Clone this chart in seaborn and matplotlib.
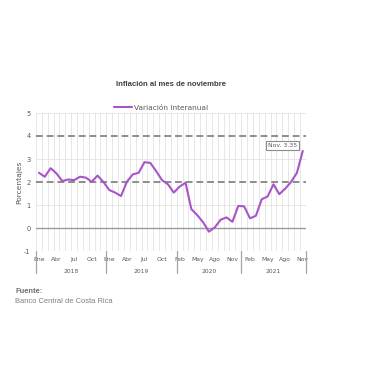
import numpy as np
import pandas as pd
import seaborn as sns
import matplotlib.pyplot as plt
import matplotlib.transforms as mtransforms

# datos: variación interanual del IPC (%), ene-2018 a nov-2021 (sin ene-2020)
years = ["2018", "2019", "2020", "2021"]
months_2018 = ["Ene", "Feb", "Mar", "Abr", "May", "Jun", "Jul", "Ago", "Sep", "Oct", "Nov", "Dic"]
months_2019 = ["Ene", "Feb", "Mar", "Abr", "May", "Jun", "Jul", "Ago", "Sep", "Oct", "Nov", "Dic"]
months_2020 = ["Feb", "Mar", "Abr", "May", "Jun", "Jul", "Ago", "Sep", "Oct", "Nov", "Dic"]
months_2021 = ["Ene", "Feb", "Mar", "Abr", "May", "Jun", "Jul", "Ago", "Sep", "Oct", "Nov"]
infl_2018 = [2.40, 2.23, 2.60, 2.37, 2.04, 2.11, 2.08, 2.23, 2.19, 2.01, 2.28, 2.00]
infl_2019 = [1.65, 1.54, 1.39, 2.01, 2.33, 2.40, 2.86, 2.83, 2.47, 2.08, 1.90, 1.54]
infl_2020 = [1.80, 1.97, 0.82, 0.56, 0.25, -0.16, 0.03, 0.36, 0.46, 0.27, 0.96]
infl_2021 = [0.94, 0.42, 0.53, 1.25, 1.37, 1.90, 1.47, 1.71, 2.00, 2.40, 3.35]
ref_lines = [2, 4]

sns.set_style("white")
plt.rcParams['font.family'] = ['DejaVu Sans']

month_groups = [months_2018, months_2019, months_2020, months_2021]
value_groups = [infl_2018, infl_2019, infl_2020, infl_2021]
rows = []
for y, ms, vs in zip(years, month_groups, value_groups):
    for m, v in zip(ms, vs):
        rows.append((y, m, v))
df = pd.DataFrame(rows, columns=["anio", "mes", "valor"])
df["pos"] = np.arange(len(df))
n = len(df)

fig = plt.figure(figsize=(3.8, 3.8), dpi=100)
ax = fig.add_axes([36 / 380, 1 - 251 / 380, 269.7 / 380, 138 / 380])

purple = "#A855C8"
grid_c = "#E3E3E3"
text_c = "#595959"

# rejilla
for k in np.arange(-0.5, n, 1.0):
    ax.axvline(k, color=grid_c, lw=0.6, zorder=0)
for yv in [-1, 1, 3, 5]:
    ax.axhline(yv, color=grid_c, lw=0.6, zorder=0)
ax.axhline(0, color="#9A9A9A", lw=1.0, zorder=1)
for r in ref_lines:
    ax.axhline(r, color="#8C8C8C", lw=1.4, ls=(0, (3.5, 2)), zorder=1)

sns.lineplot(data=df, x="pos", y="valor", ax=ax, color=purple, lw=1.5,
             label="Variación interanual", zorder=3)
ax.lines[-1].set_solid_joinstyle("round")

ax.set_xlim(-0.5, n - 0.5)
ax.set_ylim(-1, 5)
ax.set_yticks(range(-1, 6))
ax.set_yticklabels([str(t) for t in range(-1, 6)])
ticks = list(range(0, n, 3))
ax.set_xticks(ticks)
ax.set_xticklabels([df["mes"][i] for i in ticks])
ax.tick_params(axis="x", length=0, pad=4, labelsize=4.4, colors=text_c)
ax.tick_params(axis="y", length=0, pad=4, labelsize=4.8, colors=text_c)
ax.set_xlabel("")
ax.set_ylabel("Porcentajes", fontsize=5.4, color=text_c, labelpad=1)
for s in ax.spines.values():
    s.set_visible(False)

# etiquetas de año y separadores
trans = mtransforms.blended_transform_factory(ax.transData, ax.transAxes)
start = 0
bounds = [-0.5]
for y, ms in zip(years, month_groups):
    end = start + len(ms)
    ax.text((start + end - 1) / 2, -0.145, y, transform=trans, ha="center", va="center",
            fontsize=4.3, color=text_c)
    bounds.append(end - 0.5)
    start = end
for b in bounds:
    ax.plot([b, b], [0, -0.16], transform=trans, color="#A6A6A6", lw=0.9, clip_on=False)

# etiqueta del último dato
last = df.iloc[-1]
ax.annotate(f"{last['mes']}. {last['valor']:.2f}",
            xy=(last["pos"], last["valor"]), xytext=(282.5, 380 - 145.7),
            textcoords="figure pixels", ha="center", va="center",
            fontsize=4.4, color=text_c,
            bbox=dict(boxstyle="square,pad=0.35", fc="white", ec="#8C8C8C", lw=0.8))

leg = ax.legend(loc="center", bbox_to_anchor=(161 / 380, 1 - 108 / 380),
                bbox_transform=fig.transFigure, frameon=False, fontsize=5.3,
                handlelength=2.4, handletextpad=0.2)
for t in leg.get_texts():
    t.set_color(text_c)

fig.text(171 / 380, 1 - 84 / 380, "Inflación al mes de noviembre", ha="center", va="center",
         fontsize=5.6, fontweight="bold", color="#404040", family="Liberation Sans")
fig.text(15 / 380, 1 - 291.5 / 380, "Fuente:", ha="left", va="center", fontsize=5.4,
         fontweight="bold", color="#6E6E6E", family="Liberation Sans")
fig.text(15 / 380, 1 - 301.5 / 380, "Banco Central de Costa Rica", ha="left", va="center",
         fontsize=5.4, color="#7F7F7F", family="Liberation Sans")

fig.savefig("out.png", dpi=100)
